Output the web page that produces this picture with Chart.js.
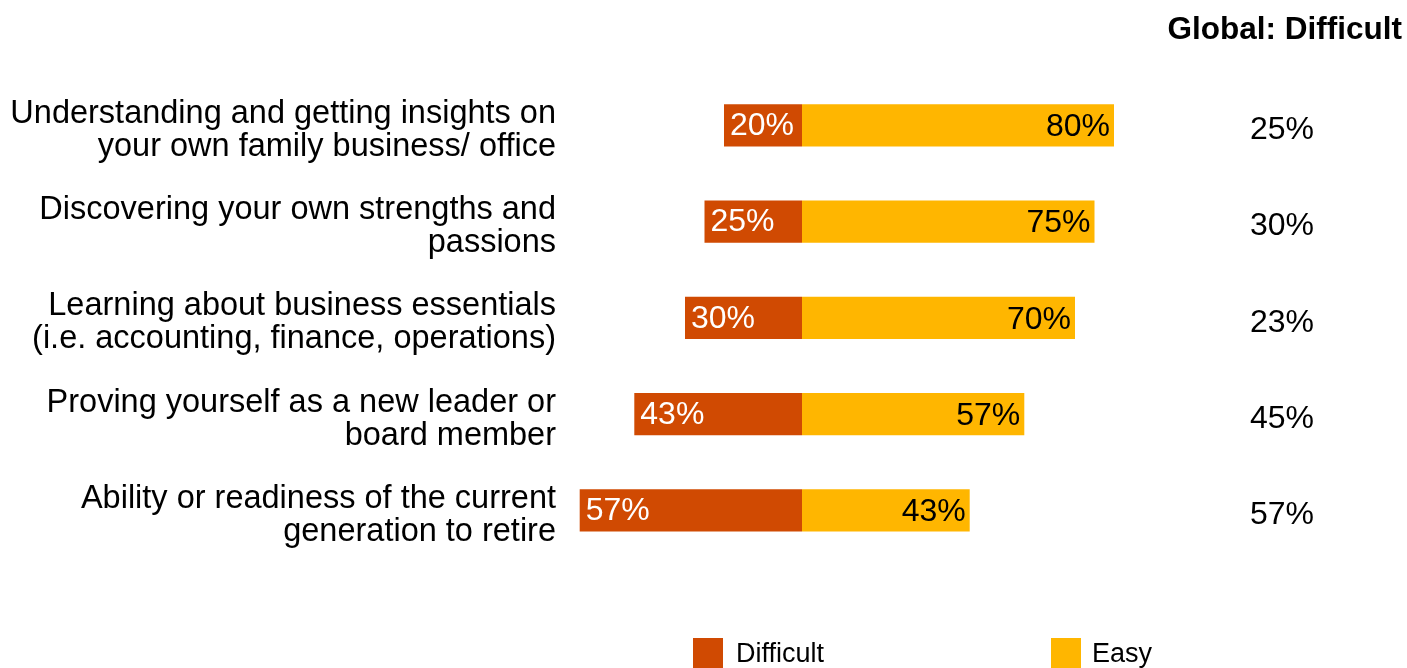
<!DOCTYPE html>
<html>
<head>
<meta charset="utf-8">
<script src="https://cdn.jsdelivr.net/npm/chart.js@4/dist/chart.umd.min.js"></script>
<style>
html,body{margin:0;padding:0;background:#fff;}
#wrap{position:relative;width:1407px;height:668px;}
canvas{display:block;}
</style>
</head>
<body>
<div id="wrap"><canvas id="c" width="1407" height="668"></canvas></div>
<script>
const categories = [
  ["Understanding and getting insights on", "your own family business/ office"],
  ["Discovering your own strengths and", "passions"],
  ["Learning about business essentials", "(i.e. accounting, finance, operations)"],
  ["Proving yourself as a new leader or", "board member"],
  ["Ability or readiness of the current", "generation to retire"]
];
const difficult = [20, 25, 30, 43, 57];
const easy = [80, 75, 70, 57, 43];
const globalDifficult = [25, 30, 23, 45, 57];
const seriesNames = ["Difficult", "Easy"];
const seriesColors = ["#D04A02", "#FFB600"];
const titleText = "Global: Difficult";

const FONT = '"Liberation Sans", Arial, Helvetica, sans-serif';
Chart.defaults.font.family = FONT;
Chart.defaults.color = '#000';

const barLabels = {
  id: 'barLabels',
  afterDatasetsDraw(chart) {
    const ctx = chart.ctx;
    ctx.save();
    ctx.font = '32px ' + FONT;
    ctx.textBaseline = 'middle';
    chart.data.datasets.forEach((ds, di) => {
      const meta = chart.getDatasetMeta(di);
      meta.data.forEach((el, i) => {
        const left = Math.min(el.x, el.base);
        const right = Math.max(el.x, el.base);
        const v = di === 0 ? difficult[i] : easy[i];
        if (di === 0) {
          ctx.fillStyle = '#fff';
          ctx.textAlign = 'left';
          ctx.fillText(v + '%', left + 6, el.y + 1);
        } else {
          ctx.fillStyle = '#000';
          ctx.textAlign = 'right';
          ctx.fillText(v + '%', right - 4, el.y + 2);
        }
      });
    });
    ctx.restore();
  }
};

const customLegend = {
  id: 'customLegend',
  afterDraw(chart) {
    const ctx = chart.ctx;
    ctx.save();
    ctx.font = '27px ' + FONT;
    ctx.textBaseline = 'middle';
    ctx.textAlign = 'left';
    const boxX = [693, 1051];
    const textX = [736, 1092];
    seriesNames.forEach((n, i) => {
      ctx.fillStyle = seriesColors[i];
      ctx.fillRect(boxX[i], 638, 30, 30);
      ctx.fillStyle = '#000';
      ctx.fillText(n, textX[i], 655);
    });
    ctx.restore();
  }
};

new Chart(document.getElementById('c'), {
  type: 'bar',
  data: {
    labels: categories,
    datasets: [
      { label: seriesNames[0], data: difficult.map(v => -v), backgroundColor: seriesColors[0], borderWidth: 0 },
      { label: seriesNames[1], data: easy, backgroundColor: seriesColors[1], borderWidth: 0 }
    ]
  },
  options: {
    indexAxis: 'y',
    responsive: false,
    animation: false,
    devicePixelRatio: 1,
    layout: { padding: { left: 0, right: 5, top: 0, bottom: 109.5 } },
    datasets: { bar: { categoryPercentage: 1, barPercentage: 0.44 } },
    scales: {
      x: { stacked: true, min: -60, max: 100, display: false },
      y: {
        stacked: true,
        position: 'left',
        grid: { display: false, drawTicks: false },
        border: { display: false },
        ticks: { font: { size: 32.5, lineHeight: 33 / 32.5 }, color: '#000', padding: 12, labelOffset: 5 },
        afterFit(s) { s.width = 568; }
      },
      y2: {
        type: 'category',
        labels: globalDifficult.map(v => v + '%'),
        position: 'right',
        offset: true,
        grid: { display: false, drawTicks: false },
        border: { display: false },
        ticks: { font: { size: 32 }, color: '#000', padding: 58, labelOffset: 5 },
        afterFit(s) { s.width = 210; }
      }
    },
    plugins: {
      legend: { display: false },
      tooltip: { enabled: false },
      title: {
        display: true,
        text: titleText,
        align: 'end',
        color: '#000',
        font: { size: 31.5, weight: 'bold' },
        padding: { top: 8, bottom: 28 }
      }
    }
  },
  plugins: [barLabels, customLegend]
});
</script>
</body>
</html>
